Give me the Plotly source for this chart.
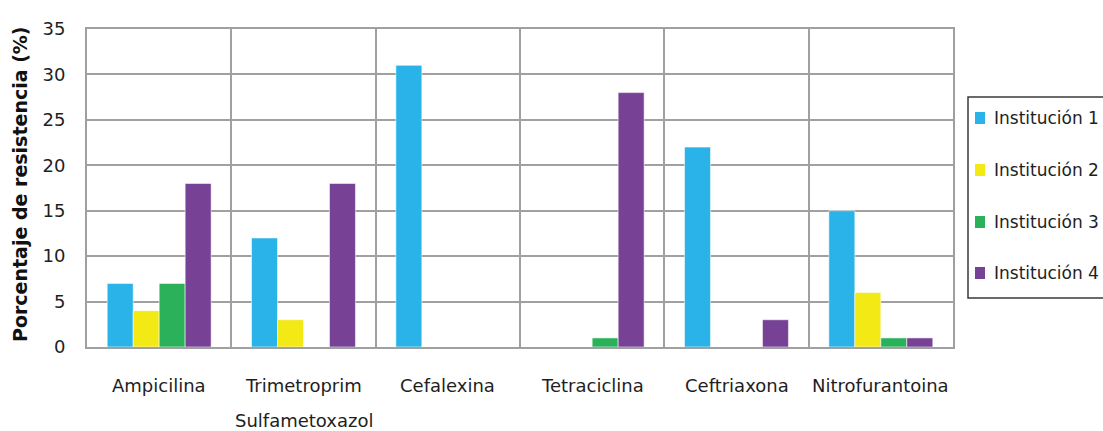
import plotly.graph_objects as go

# Antibiotics on the category axis
categories = ["Ampicilina", "Trimetroprim Sulfametoxazol", "Cefalexina",
              "Tetraciclina", "Ceftriaxona", "Nitrofurantoina"]
tick_lines = [["Ampicilina"], ["Trimetroprim", "Sulfametoxazol"], ["Cefalexina"],
              ["Tetraciclina"], ["Ceftriaxona"], ["Nitrofurantoina"]]

# Resistance percentage per institution
series_names = ["Institución 1", "Institución 2", "Institución 3", "Institución 4"]
inst1 = [7, 12, 31, 0, 22, 15]
inst2 = [4, 3, 0, 0, 0, 6]
inst3 = [7, 0, 0, 1, 0, 1]
inst4 = [18, 18, 0, 28, 3, 1]
series_values = [inst1, inst2, inst3, inst4]

y_ticks = [0, 5, 10, 15, 20, 25, 30, 35]
y_title = "Porcentaje de resistencia (%)"

colors = ["#29B3E8", "#F2E915", "#2AB15A", "#774296"]
FONT = "DejaVu Sans"
TXT = "#1e1e1e"
GRID = "#a0a0a0"
FS = 18

# figure geometry (pixels)
W, H = 1103, 431
L, R, T, B = 87, 150, 29, 84
pw, ph = W - L - R, H - T - B


def px_x(px):
    return (px - L) / pw


def px_y(py):
    return (H - B - py) / ph


fig = go.Figure()
for name, vals, col in zip(series_names, series_values, colors):
    fig.add_trace(go.Bar(
        x=categories, y=vals, name=name, showlegend=False,
        marker=dict(color=col, line=dict(color="rgba(255,255,255,0.55)", width=1)),
    ))

fig.update_layout(
    width=W, height=H,
    margin=dict(l=L, r=R, t=T, b=B),
    paper_bgcolor="white", plot_bgcolor="white",
    barmode="group", bargap=0.28, bargroupgap=0,
    font=dict(family=FONT, size=FS, color=TXT),
)

fig.update_xaxes(
    type="category", tickson="boundaries", showgrid=True,
    gridcolor=GRID, gridwidth=2, showline=True, linecolor=GRID, linewidth=2,
    mirror=True, showticklabels=False, ticks="", zeroline=False,
)
fig.update_yaxes(
    range=[0, 35], tickvals=y_ticks, showgrid=True, gridcolor=GRID, gridwidth=2,
    showline=True, linecolor=GRID, linewidth=2, mirror=True, ticks="",
    ticklabelstandoff=16, zeroline=False,
    tickfont=dict(family=FONT, size=FS, color=TXT),
)

annotations = []
# category labels, one annotation per line
for cat, lines in zip(categories, tick_lines):
    for i, line in enumerate(lines):
        annotations.append(dict(
            x=cat, xref="x", y=px_y(385 + 35 * i), yref="paper",
            text=line, showarrow=False, xanchor="center", yanchor="middle",
            font=dict(family=FONT, size=FS, color=TXT),
        ))

# y-axis title
annotations.append(dict(
    x=px_x(20), xref="paper", y=px_y(184), yref="paper",
    text="<b>" + y_title + "</b>", textangle=-90, showarrow=False,
    xanchor="center", yanchor="middle",
    font=dict(family=FONT, size=19, color="#111111"),
))

shapes = []
# legend frame
shapes.append(dict(
    type="rect", xref="paper", yref="paper",
    x0=px_x(968), x1=px_x(1115), y0=px_y(298), y1=px_y(97),
    line=dict(color="#3a3a3a", width=1.5), fillcolor="white", layer="above",
))
legend_y = [118, 170, 222, 273]
for name, col, ly in zip(series_names, colors, legend_y):
    shapes.append(dict(
        type="rect", xref="paper", yref="paper",
        x0=px_x(975), x1=px_x(985), y0=px_y(ly + 6), y1=px_y(ly - 6),
        line=dict(width=0), fillcolor=col, layer="above",
    ))
    annotations.append(dict(
        x=px_x(992), xref="paper", y=px_y(ly), yref="paper",
        text=name, showarrow=False, xanchor="left", yanchor="middle",
        font=dict(family=FONT, size=17, color=TXT),
    ))

fig.update_layout(annotations=annotations, shapes=shapes)

fig.write_html("out.html")
